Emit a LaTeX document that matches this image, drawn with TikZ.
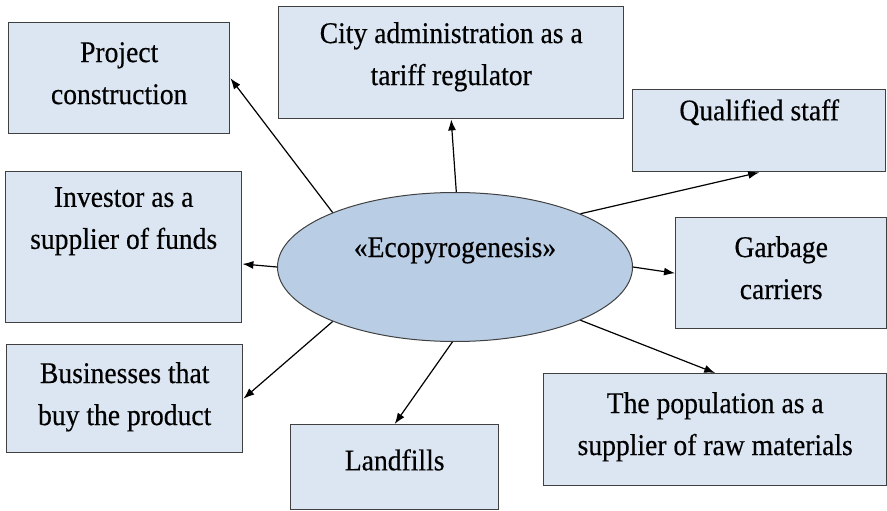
\documentclass[tikz,border=0pt]{standalone}
\usepackage{fontspec}
\setmainfont{Liberation Serif}[FakeStretch=0.92,FakeBold=0.4]
\usetikzlibrary{arrows.meta,shapes.geometric,calc}
\definecolor{boxfill}{HTML}{DCE6F2}
\definecolor{ellfill}{HTML}{B9CDE5}
\definecolor{edge}{HTML}{404040}
\begin{document}
\begin{tikzpicture}[x=1pt,y=-1pt,
  mybox/.style={draw=edge,line width=1.4pt,fill=boxfill,anchor=north west,inner sep=0pt},
  txt/.style={anchor=north,inner sep=0pt,align=center,font=\fontsize{30}{42}\selectfont},
  arr/.style={line width=1.2pt,-{Latex[length=11pt,width=8pt]}}]
\useasboundingbox (0,0) rectangle (887,511);
% boxes
\node[mybox,minimum width=221pt,minimum height=111pt] (pc) at (8,22) {};
\node[mybox,minimum width=345pt,minimum height=112pt] (city) at (278,6) {};
\node[mybox,minimum width=253pt,minimum height=82pt] (qs) at (632,89) {};
\node[mybox,minimum width=236pt,minimum height=151pt] (inv) at (5,171) {};
\node[mybox,minimum width=211pt,minimum height=111pt] (gc) at (675,217) {};
\node[mybox,minimum width=236pt,minimum height=108pt] (bus) at (6,344) {};
\node[mybox,minimum width=343pt,minimum height=112pt] (pop) at (543,373) {};
\node[mybox,minimum width=208pt,minimum height=85pt] (lf) at (290,424) {};
% ellipse
\node[ellipse,draw=edge,line width=1pt,fill=ellfill,minimum width=355pt,minimum height=149pt,inner sep=0pt] (e) at (455,267) {};
% texts
\node[txt] (pct) at ($(pc.north)+(0,20)$) {Project\\construction};
\node[txt] (cityt) at ($(city.north)+(0,16)$) {City administration as a\\tariff regulator};
\node[txt] (qst) at ($(qs.north)+(0,10)$) {Qualified staff};
\node[txt] (invt) at ($(inv.north)+(0,16)$) {Investor as a\\supplier of funds};
\node[txt] (gct) at ($(gc.north)+(0,19)$) {Garbage\\carriers};
\node[txt] (bust) at ($(bus.north)+(0,18)$) {Businesses that\\buy the product};
\node[txt] (popt) at ($(pop.north)+(0,19)$) {The population as a\\supplier of raw materials};
\node[txt] (lft) at ($(lf.north)+(0,25)$) {Landfills};
\node[txt] (et) at ($(e.center)+(0,-30)$) {«Ecopyrogenesis»};
% connectors
\draw[arr] (e.156) -- (pc.east);
\draw[arr] (e.89) -- (city.south);
\draw[arr] (e.23) -- (qs.south);
\draw[arr] (e.180) -- ($(inv.north east)!0.61!(inv.south east)$);
\draw[arr] (e.0) -- (gc.west);
\draw[arr] (e.-23) -- (pop.north);
\draw[arr] (e.268) -- (lf.north);
\draw[arr] (e.204) -- (bus.east);
\end{tikzpicture}
\end{document}
